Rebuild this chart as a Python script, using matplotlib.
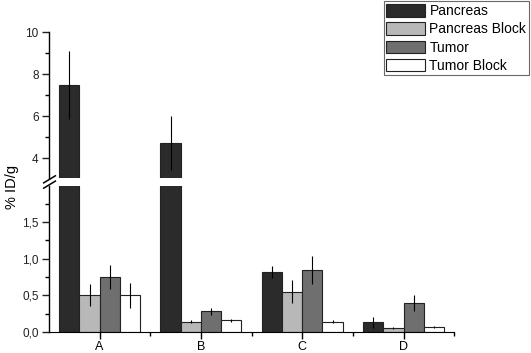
import matplotlib
matplotlib.use("Agg")
import matplotlib.pyplot as plt
import numpy as np
from matplotlib.ticker import FixedLocator, FuncFormatter

plt.rcParams["font.family"] = ["Liberation Sans", "DejaVu Sans"]

# data
groups = ["A", "B", "C", "D"]
series = ["Pancreas", "Pancreas Block", "Tumor", "Tumor Block"]
pancreas = [7.47, 4.72, 0.82, 0.13]
pancreas_err = [1.62, 1.3, 0.08, 0.08]
pancreas_block = [0.50, 0.14, 0.55, 0.055]
pancreas_block_err = [0.15, 0.02, 0.16, 0.01]
tumor = [0.75, 0.28, 0.84, 0.40]
tumor_err = [0.16, 0.05, 0.19, 0.11]
tumor_block = [0.50, 0.16, 0.14, 0.07]
tumor_block_err = [0.17, 0.02, 0.02, 0.01]

values = [pancreas, pancreas_block, tumor, tumor_block]
errors = [pancreas_err, pancreas_block_err, tumor_err, tumor_block_err]
colors = ["#2b2b2b", "#b8b8b8", "#6f6f6f", "#ffffff"]

fig = plt.figure(figsize=(5.31, 3.53), dpi=100)
ax_lo = fig.add_axes([0.0923, 0.0595, 0.763, 0.4135])
ax_hi = fig.add_axes([0.0923, 0.4958, 0.763, 0.4132])

x = np.arange(len(groups))
width = 0.2
offsets = [-0.3, -0.1, 0.1, 0.3]

for ax in (ax_lo, ax_hi):
    for vals, errs, col, off, name in zip(values, errors, colors, offsets, series):
        ax.bar(x + off, vals, width, color=col, edgecolor="#222222",
               linewidth=0.8, label=name)
        ax.errorbar(x + off, vals, yerr=errs, fmt="none", ecolor="black",
                    elinewidth=0.8, capsize=0)
    ax.set_xlim(-0.5, 3.5)
    ax.spines["top"].set_visible(False)
    ax.spines["right"].set_visible(False)
    ax.spines["left"].set_linewidth(1.0)
    ax.tick_params(axis="y", which="major", direction="out", length=5,
                   width=1, labelsize=8.5, colors="#222222", pad=2.5)
    ax.tick_params(axis="y", which="minor", direction="out", length=3, width=1)

ax_lo.set_ylim(0, 1.99)
ax_hi.set_ylim(3.05, 10)

ax_lo.yaxis.set_major_locator(FixedLocator([0, 0.5, 1.0, 1.5]))
ax_lo.yaxis.set_minor_locator(FixedLocator([0.25, 0.75, 1.25, 1.75]))
ax_lo.yaxis.set_major_formatter(
    FuncFormatter(lambda v, p: f"{v:.1f}".replace(".", ",")))
ax_hi.yaxis.set_major_locator(FixedLocator([4, 6, 8, 10]))
ax_hi.yaxis.set_minor_locator(FixedLocator([5, 7, 9]))

ax_lo.set_xticks(x)
ax_lo.set_xticklabels(groups, fontsize=9)
ax_lo.xaxis.set_minor_locator(FixedLocator([0.5, 1.5, 2.5, 3.5]))
ax_lo.tick_params(axis="x", which="major", direction="out", length=5, width=1,
                  pad=1.5)
ax_lo.tick_params(axis="x", which="minor", direction="out", length=3, width=1)

ax_hi.spines["bottom"].set_visible(False)
ax_hi.set_xticks([])

# break marks on the left spine
kw = dict(color="black", linewidth=1.1, clip_on=False)
fig.add_artist(plt.Line2D([0.0823, 0.1043], [0.467, 0.487], **kw))
fig.add_artist(plt.Line2D([0.0823, 0.1043], [0.482, 0.502], **kw))

fig.text(0.022, 0.47, "% ID/g", rotation=90, ha="center", va="center",
         fontsize=10.5)

handles, labels = ax_lo.get_legend_handles_labels()
leg = fig.legend(handles, labels, loc="upper right",
                 bbox_to_anchor=(0.999, 1.0), fontsize=10, frameon=True,
                 fancybox=False, edgecolor="#444444", handlelength=2.8,
                 handleheight=1.0, handletextpad=0.3, labelspacing=0.3,
                 borderpad=0.2, borderaxespad=0.1)
leg.get_frame().set_linewidth(0.8)

fig.savefig("out.png", dpi=100)
